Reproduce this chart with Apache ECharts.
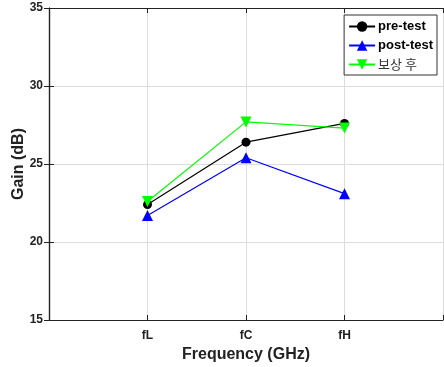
<!DOCTYPE html>
<html>
<head>
<meta charset="utf-8">
<script src="https://cdn.jsdelivr.net/npm/echarts@6/dist/echarts.min.js"></script>
<style>
  html, body { margin: 0; padding: 0; background: #fff; }
  #chart { width: 444px; height: 367px; }
</style>
</head>
<body>
<div id="chart"></div>
<script>
const categories = ["fL", "fC", "fH"];
const preTest = [22.4, 26.4, 27.6];
const postTest = [21.7, 25.4, 23.1];
const compensated = [22.6, 27.7, 27.3];
const yTicks = [15, 20, 25, 30, 35];

const font = "Liberation Sans, Arial, sans-serif";
const toPoints = (vals) => vals.map((v, i) => [i + 1, v]);

const chart = echarts.init(document.getElementById("chart"));

chart.setOption({
  animation: false,
  textStyle: { fontFamily: font },
  grid: { left: 49, right: 1, top: 8, bottom: 47, containLabel: false, outerBoundsMode: "none" },
  legend: {
    right: 7,
    top: 15,
    orient: "vertical",
    itemGap: 6,
    itemWidth: 26,
    itemHeight: 13,
    padding: [5, 4, 4, 4],
    borderColor: "#333",
    borderWidth: 1,
    backgroundColor: "#fff",
    textStyle: { fontSize: 13, fontWeight: "bold", color: "#000", padding: [0, 0, 0, -2] },
    data: ["pre-test", "post-test", { name: "보상 후", textStyle: { fontWeight: "normal", fontFamily: "Noto Sans CJK KR", color: "#333" } }]
  },
  xAxis: [
    {
      type: "value",
      min: 0,
      max: 4,
      interval: 1,
      name: "Frequency (GHz)",
      nameLocation: "middle",
      nameGap: 26,
      nameTextStyle: { fontSize: 16, fontWeight: "bold", color: "#222" },
      axisLine: { lineStyle: { color: "#222", width: 1.2 } },
      axisTick: { inside: true, length: 5, lineStyle: { color: "#222" } },
      axisLabel: {
        fontSize: 12, fontWeight: "bold", color: "#222", margin: 10,
        formatter: (v) => categories[v - 1] || ""
      },
      splitLine: { show: true, lineStyle: { color: "#ddd", width: 1 } }
    },
    {
      type: "value",
      position: "top",
      min: 0,
      max: 4,
      interval: 1,
      axisLine: { lineStyle: { color: "#222", width: 1.2 } },
      axisTick: { inside: true, length: 5, lineStyle: { color: "#222" } },
      axisLabel: { show: false },
      splitLine: { show: false }
    }
  ],
  yAxis: [
    {
      type: "value",
      min: yTicks[0],
      max: yTicks[yTicks.length - 1],
      interval: 5,
      name: "Gain (dB)",
      nameLocation: "middle",
      nameGap: 22,
      nameMoveOverlap: false,
      nameTextStyle: { fontSize: 16, fontWeight: "bold", color: "#222" },
      axisLine: { lineStyle: { color: "#222", width: 1.2 } },
      axisTick: { inside: true, length: 5, lineStyle: { color: "#222" } },
      axisLabel: { fontSize: 12, fontWeight: "bold", color: "#222", margin: 6 },
      splitLine: { show: true, lineStyle: { color: "#ddd", width: 1 } }
    },
    {
      type: "value",
      position: "right",
      min: yTicks[0],
      max: yTicks[yTicks.length - 1],
      interval: 5,
      axisLine: { lineStyle: { color: "#222", width: 1.2 } },
      axisTick: { inside: true, length: 5, lineStyle: { color: "#222" } },
      axisLabel: { show: false },
      splitLine: { show: false }
    }
  ],
  series: [
    {
      name: "pre-test",
      type: "line",
      data: toPoints(preTest),
      color: "#000",
      lineStyle: { width: 1.2 },
      symbol: "circle",
      symbolSize: 9
    },
    {
      name: "post-test",
      type: "line",
      data: toPoints(postTest),
      color: "#0000ff",
      lineStyle: { width: 1.2 },
      symbol: "triangle",
      symbolSize: 11
    },
    {
      name: "보상 후",
      type: "line",
      data: toPoints(compensated),
      color: "#00ff00",
      lineStyle: { width: 1.2 },
      symbol: "triangle",
      symbolRotate: 180,
      symbolSize: 11
    }
  ]
});
</script>
</body>
</html>
